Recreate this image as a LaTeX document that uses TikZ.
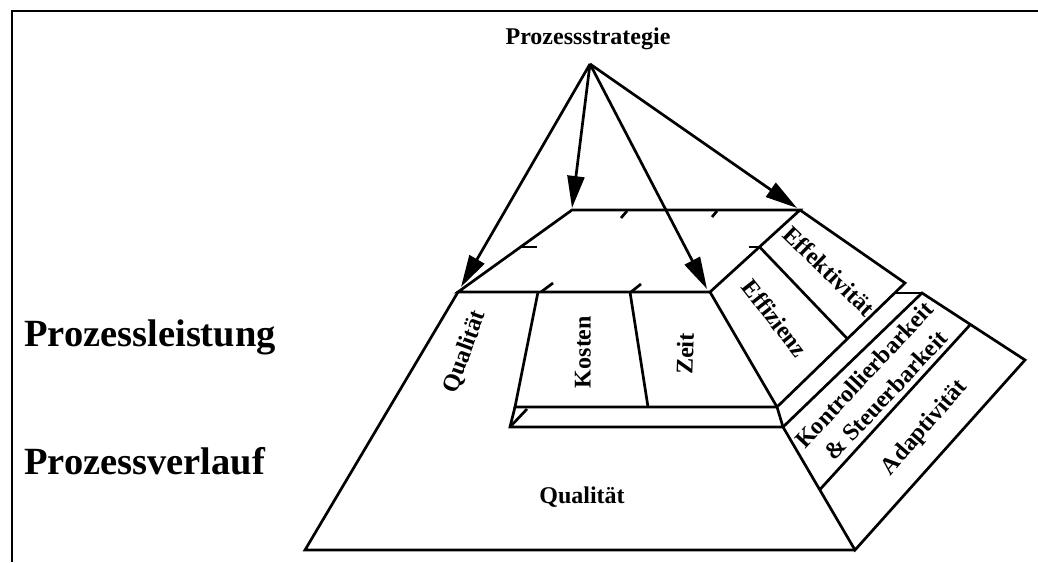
\documentclass[tikz,border=0pt]{standalone}
\usepackage{fontspec}
\setmainfont{Liberation Serif}
\usetikzlibrary{arrows.meta,calc}
\begin{document}
\begin{tikzpicture}[x=1pt,y=-1pt,
  edge/.style={line width=2.7pt,line join=miter},
  arr/.style={line width=2.7pt,-{Triangle[length=32pt,width=17pt]}},
  lbl/.style={font=\fontsize{24}{30}\selectfont\bfseries,inner sep=0pt,align=center},
  big/.style={font=\fontsize{38.5}{44}\selectfont\bfseries,inner sep=0pt,anchor=base west}]
\useasboundingbox (0,0) rectangle (1038,562);
% frame
\draw[edge] (12,562) -- (12,11) -- (1038,11);
% corners
\coordinate (apex) at (590,64);
\coordinate (TBL) at (572,210);
\coordinate (TBR) at (800,210);
\coordinate (FL) at (458,292);
\coordinate (FR) at (710,292);
\coordinate (G) at (905,283);
\coordinate (H) at (777,407);
\coordinate (K1) at (538,292);
\coordinate (K2) at (515,407);
\coordinate (Z1) at (630,292);
\coordinate (Z2) at (648,407);
\coordinate (S1) at (510,427);
\coordinate (S2) at (783,427);
\coordinate (B) at (922,293);
\coordinate (C) at (1025,360);
\coordinate (D) at (855,550);
\coordinate (BL) at (305,550);
% arrow targets
\coordinate (t1) at (461,287);
\coordinate (t2) at (572,208);
\coordinate (t3) at (707,289);
\coordinate (t4) at (797,208);
% title
\node[lbl,anchor=base] (title) at (588,44) {Prozessstrategie};
% top face
\draw[edge] (FR) -- (FL) -- (TBL) -- (TBR) -- (FR);
% upper side face
\draw[edge] (TBR) -- (G) -- (H) -- (FR);
\draw[edge] ($(FR)!0.55!(TBR)$) -- ($(G)!0.45!(H)$);
% front face
\draw[edge] (K1) -- (K2) -- (H);
\draw[edge] (Z1) -- (Z2);
% slab
\draw[edge] (K2) -- (S1) -- (S2);
\draw[edge] (S1) -- (527,409);
\draw[edge] (H) -- (S2);
% lower side face
\draw[edge] (D) -- (S2) -- (B) -- (C) -- cycle;
\draw[edge] (895,293) -- (B);
\draw[edge] ($(B)!0.47!(C)$) -- ($(S2)!0.51!(D)$);
% base
\draw[edge] (FL) -- (BL) -- (D);
% hidden-line ticks
\draw[edge] (627,211) -- (621,218);
\draw[edge] (717,211) -- (712,217);
\draw[edge] (522,247) -- (537,247);
\draw[edge] (749,247) -- (761,247);
\draw[edge] (541,292) -- (553,283);
\draw[edge] (631,292) -- (641,284);
% arrows
\draw[arr] (apex) -- (t1);
\draw[arr] (apex) -- (t2);
\draw[arr] (apex) -- (t3);
\draw[arr] (apex) -- (t4);
% labels
\node[lbl,rotate=70] (qualL) at (465,352) {Qualität};
\node[lbl,rotate=90] (kosten) at (583,352) {Kosten};
\node[lbl,rotate=88] (zeit) at (685,354) {Zeit};
\node[lbl,rotate=-52] (effiz) at (775,318) {Effizienz};
\node[lbl,rotate=-44] (effekt) at (829,271) {Effektivität};
\node[lbl,rotate=47] (kontr) at (875,385) {Kontrollierbarkeit\\\& Steuerbarkeit};
\node[lbl,rotate=49] (adapt) at (925,428) {Adaptivität};
\node[lbl] (qualB) at (582,497) {Qualität};
\node[big] (pl) at (24,346) {Prozessleistung};
\node[big] (pv) at (24,474) {Prozessverlauf};
\end{tikzpicture}
\end{document}
